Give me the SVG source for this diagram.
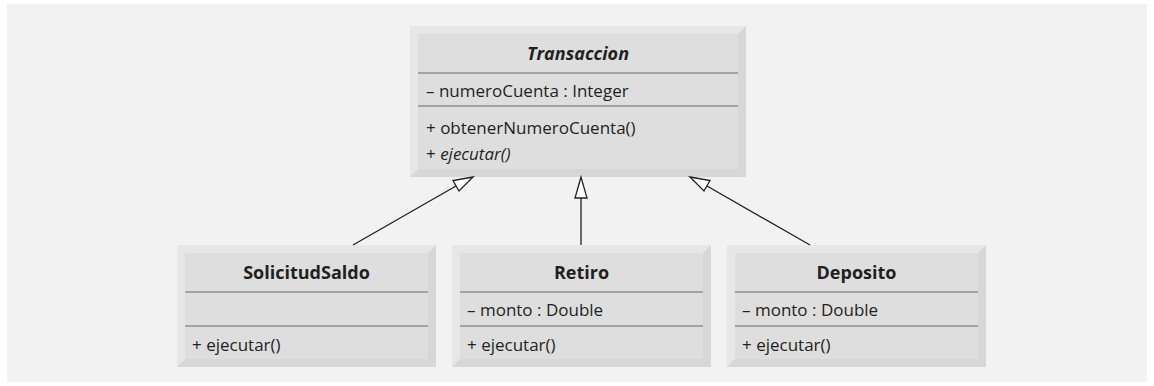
<svg xmlns="http://www.w3.org/2000/svg" width="1154" height="386" viewBox="0 0 1154 386">
<defs>
<style>
.bg{fill:#f2f2f2}
.bl{fill:#e7e7e7}
.bd{fill:#d7d7d7}
.face{fill:#dedede}
.sep{stroke:#a3a3a3;stroke-width:2}
.t{font-family:"Open Sans","Liberation Sans",sans-serif;font-size:17px;fill:#231f20}
.h{font-weight:bold;text-anchor:middle;font-size:18px}
.i{font-style:italic}
.edge{stroke:#231f20;stroke-width:1.3;fill:none}
.head{stroke:#231f20;stroke-width:1.3;fill:#ffffff}
</style>
</defs>
<rect class="bg" x="7" y="4" width="1140" height="378"/>
<g id="Transaccion">
<rect class="bl" x="410" y="26" width="336" height="151"/>
<polygon class="bd" points="746,26 746,177 410,177 418,169 738,169 738,34"/>
<rect class="face" x="418" y="34" width="320" height="135"/>
<line class="sep" x1="418" y1="73" x2="738" y2="73"/>
<line class="sep" x1="418" y1="106" x2="738" y2="106"/>
<text class="t h i" x="578" y="60">Transaccion</text>
<text class="t" x="426" y="97">– numeroCuenta : Integer</text>
<text class="t" x="426" y="134">+ obtenerNumeroCuenta()</text>
<text class="t" x="426" y="160">+ <tspan class="i">ejecutar()</tspan></text>
</g>
<g id="SolicitudSaldo">
<rect class="bl" x="177" y="245" width="259" height="122"/>
<polygon class="bd" points="436,245 436,367 177,367 185,359 428,359 428,253"/>
<rect class="face" x="185" y="253" width="243" height="106"/>
<line class="sep" x1="185" y1="292" x2="428" y2="292"/>
<line class="sep" x1="185" y1="326" x2="428" y2="326"/>
<text class="t h" x="306.5" y="279">SolicitudSaldo</text>
<text class="t" x="192" y="351">+ ejecutar()</text>
</g>
<g id="Retiro">
<rect class="bl" x="452" y="245" width="259" height="122"/>
<polygon class="bd" points="711,245 711,367 452,367 460,359 703,359 703,253"/>
<rect class="face" x="460" y="253" width="243" height="106"/>
<line class="sep" x1="460" y1="292" x2="703" y2="292"/>
<line class="sep" x1="460" y1="326" x2="703" y2="326"/>
<text class="t h" x="581.5" y="279">Retiro</text>
<text class="t" x="467" y="316">– monto : Double</text>
<text class="t" x="467" y="351">+ ejecutar()</text>
</g>
<g id="Deposito">
<rect class="bl" x="727" y="245" width="259" height="122"/>
<polygon class="bd" points="986,245 986,367 727,367 735,359 978,359 978,253"/>
<rect class="face" x="735" y="253" width="243" height="106"/>
<line class="sep" x1="735" y1="292" x2="978" y2="292"/>
<line class="sep" x1="735" y1="326" x2="978" y2="326"/>
<text class="t h" x="856.5" y="279">Deposito</text>
<text class="t" x="742" y="316">– monto : Double</text>
<text class="t" x="742" y="351">+ ejecutar()</text>
</g>
<g id="connectors">
<line class="edge" x1="353" y1="245" x2="456" y2="186"/>
<polygon class="head" points="473,177 453,180.5 459,191"/>
<line class="edge" x1="581" y1="245" x2="581" y2="198"/>
<polygon class="head" points="581,177 575,198 587,198"/>
<line class="edge" x1="810" y1="245" x2="707" y2="186"/>
<polygon class="head" points="690,177 710,180.5 704,191"/>
</g>
</svg>
